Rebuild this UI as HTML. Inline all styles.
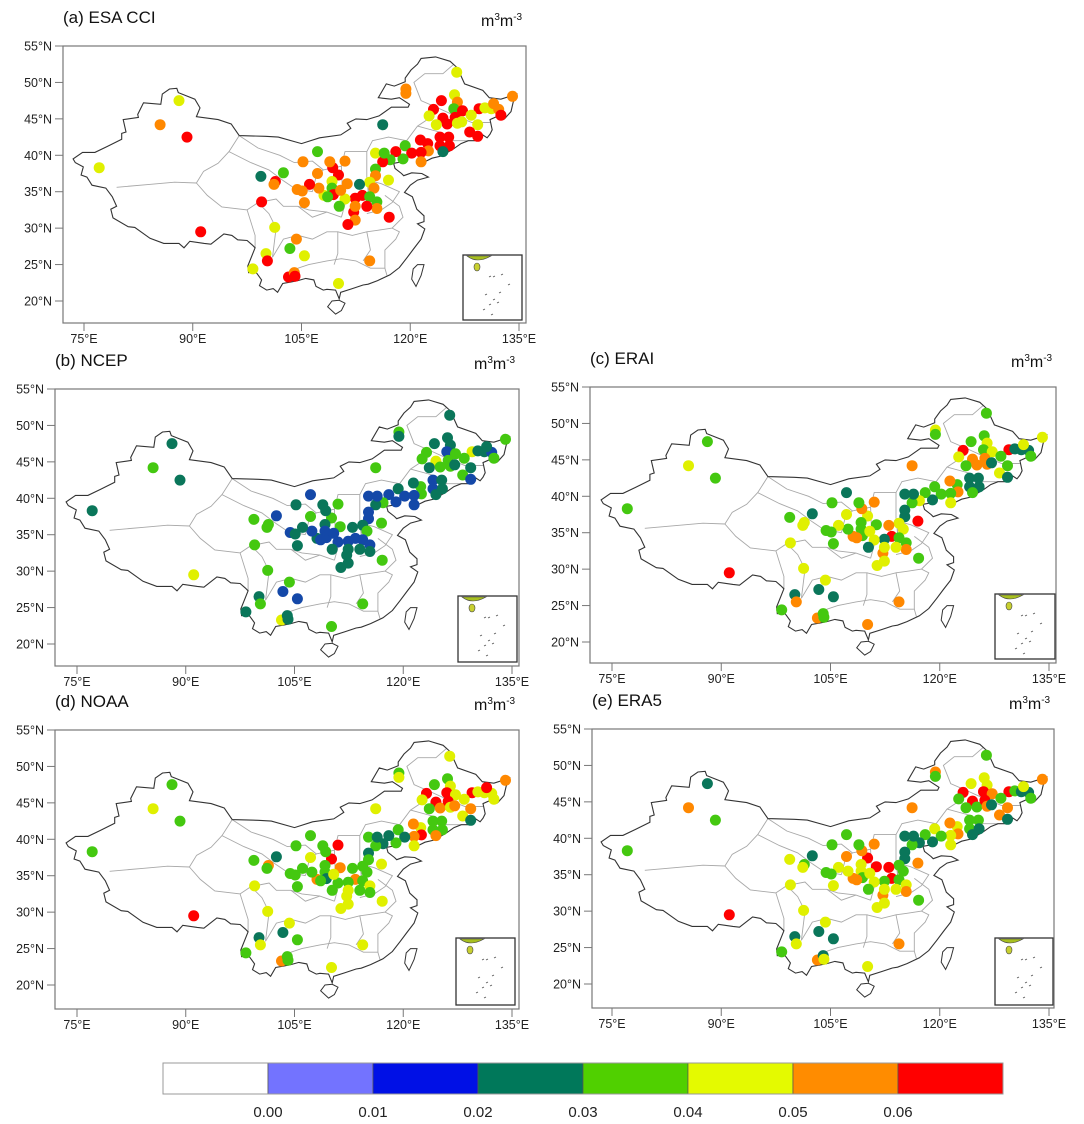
<!DOCTYPE html>
<html><head><meta charset="utf-8">
<style>
html,body{margin:0;padding:0;background:#fff;}
svg{display:block;font-family:"Liberation Sans",Arial,sans-serif;}
</style></head>
<body>
<svg id="fig" width="1084" height="1124" viewBox="0 0 1084 1124" xmlns="http://www.w3.org/2000/svg"></svg>
<script>
// ---------- data ----------
const stationLon=[88.1,85.5,89.2,77.1,91.1,126.4,119.4,119.4,134.1,126.1,124.3,126.5,123.2,126.0,127.2,129.5,130.3,131.2,132.2,131.5,132.5,122.6,124.5,125.1,126.2,126.5,127.1,128.4,129.3,128.2,129.3,123.6,124.1,125.3,124.1,125.4,124.5,122.4,121.4,122.5,121.5,121.5,116.2,119.3,120.2,119.0,118.0,117.2,116.2,115.2,116.4,115.2,115.2,117.0,114.4,115.0,113.0,113.4,112.4,114.4,115.4,115.4,114.0,117.1,112.2,112.4,112.4,111.4,111.0,110.2,111.3,110.1,109.3,111.0,108.9,107.2,105.2,107.2,109.2,109.2,109.4,110.4,108.1,108.6,107.4,106.1,104.4,105.1,105.4,102.5,99.4,101.4,101.2,99.5,101.3,104.3,103.4,105.4,100.1,100.3,98.3,103.2,104.0,104.1,110.1,114.4];
const stationLat=[47.5,44.2,42.5,38.3,29.5,51.4,49.1,48.5,48.1,48.3,47.5,47.3,46.3,46.4,46.1,46.4,46.5,46.4,46.3,47.1,45.5,45.4,45.1,44.3,45.2,44.4,44.6,45.5,44.2,43.2,42.6,44.2,42.5,42.5,41.3,41.3,40.5,41.6,42.1,40.6,40.4,39.1,44.2,41.3,40.3,39.5,40.5,39.4,39.1,40.3,40.3,38.1,37.2,36.6,36.3,35.5,36.0,34.5,34.1,34.3,33.6,32.7,33.0,31.5,32.2,33.0,31.1,30.5,34.0,33.0,36.1,37.3,38.3,39.2,39.1,40.5,39.1,37.5,36.4,35.5,34.6,35.2,34.5,34.3,35.5,36.0,35.3,35.1,33.5,37.6,37.1,36.4,36.0,33.6,30.1,28.5,27.2,26.2,26.5,25.5,24.4,23.3,23.9,23.4,22.4,25.5];
const valuesESACCI=[0.045,0.055,0.065,0.045,0.065,0.045,0.055,0.055,0.055,0.045,0.065,0.055,0.065,0.035,0.065,0.065,0.045,0.045,0.055,0.055,0.065,0.045,0.065,0.065,0.065,0.045,0.045,0.045,0.045,0.065,0.065,0.045,0.065,0.065,0.065,0.065,0.025,0.065,0.065,0.055,0.065,0.055,0.025,0.035,0.065,0.035,0.065,0.035,0.065,0.045,0.035,0.035,0.055,0.045,0.045,0.055,0.025,0.065,0.065,0.035,0.035,0.055,0.065,0.065,0.065,0.055,0.055,0.065,0.045,0.035,0.055,0.065,0.065,0.055,0.055,0.035,0.055,0.055,0.045,0.035,0.065,0.055,0.045,0.035,0.055,0.065,0.055,0.055,0.055,0.035,0.025,0.065,0.055,0.065,0.045,0.055,0.035,0.045,0.045,0.065,0.045,0.065,0.055,0.065,0.045,0.055];
const valuesNCEP=[0.025,0.035,0.025,0.025,0.042,0.025,0.035,0.025,0.035,0.025,0.025,0.025,0.035,0.015,0.035,0.042,0.025,0.025,0.015,0.025,0.035,0.035,0.042,0.035,0.035,0.035,0.025,0.035,0.025,0.035,0.015,0.025,0.015,0.025,0.015,0.025,0.025,0.035,0.025,0.035,0.015,0.015,0.035,0.025,0.015,0.015,0.015,0.035,0.025,0.015,0.015,0.015,0.015,0.035,0.025,0.035,0.025,0.015,0.015,0.015,0.015,0.025,0.025,0.035,0.025,0.025,0.025,0.025,0.015,0.025,0.035,0.035,0.025,0.035,0.025,0.015,0.025,0.035,0.025,0.015,0.015,0.015,0.025,0.015,0.015,0.025,0.015,0.025,0.025,0.015,0.035,0.035,0.035,0.035,0.035,0.035,0.015,0.015,0.025,0.035,0.025,0.042,0.025,0.025,0.035,0.035];
const valuesERAI=[0.035,0.045,0.035,0.035,0.065,0.035,0.045,0.035,0.045,0.035,0.035,0.045,0.065,0.035,0.045,0.065,0.025,0.025,0.025,0.045,0.035,0.045,0.055,0.055,0.055,0.055,0.025,0.035,0.035,0.045,0.025,0.035,0.025,0.025,0.025,0.025,0.035,0.035,0.055,0.055,0.035,0.045,0.055,0.035,0.035,0.025,0.035,0.045,0.035,0.025,0.025,0.025,0.025,0.065,0.045,0.045,0.055,0.065,0.025,0.035,0.035,0.055,0.045,0.035,0.055,0.045,0.045,0.045,0.045,0.025,0.035,0.045,0.055,0.055,0.035,0.025,0.035,0.045,0.035,0.035,0.035,0.045,0.055,0.055,0.035,0.045,0.035,0.035,0.035,0.025,0.035,0.045,0.045,0.045,0.045,0.045,0.025,0.025,0.025,0.055,0.035,0.055,0.035,0.035,0.055,0.055];
const valuesNOAA=[0.035,0.045,0.035,0.035,0.065,0.045,0.035,0.045,0.055,0.035,0.035,0.045,0.065,0.065,0.045,0.065,0.045,0.045,0.045,0.065,0.045,0.045,0.065,0.055,0.065,0.045,0.055,0.045,0.055,0.045,0.025,0.035,0.035,0.035,0.035,0.035,0.055,0.045,0.055,0.065,0.055,0.045,0.045,0.035,0.025,0.035,0.025,0.025,0.035,0.035,0.025,0.025,0.035,0.045,0.035,0.035,0.035,0.055,0.035,0.035,0.045,0.035,0.035,0.045,0.045,0.045,0.045,0.045,0.035,0.035,0.055,0.065,0.035,0.065,0.035,0.035,0.035,0.045,0.035,0.035,0.025,0.045,0.055,0.035,0.035,0.035,0.035,0.035,0.035,0.025,0.035,0.055,0.035,0.045,0.045,0.045,0.025,0.035,0.025,0.045,0.035,0.055,0.035,0.035,0.045,0.045];
const valuesERA5=[0.025,0.055,0.035,0.035,0.065,0.035,0.055,0.035,0.055,0.045,0.045,0.045,0.065,0.065,0.055,0.065,0.035,0.025,0.025,0.045,0.035,0.035,0.065,0.035,0.065,0.055,0.025,0.035,0.055,0.055,0.025,0.035,0.035,0.035,0.035,0.025,0.025,0.045,0.055,0.055,0.045,0.045,0.055,0.045,0.035,0.025,0.035,0.025,0.035,0.025,0.025,0.025,0.025,0.055,0.035,0.035,0.065,0.065,0.035,0.035,0.045,0.055,0.045,0.035,0.055,0.045,0.045,0.045,0.045,0.035,0.065,0.065,0.055,0.055,0.035,0.035,0.035,0.055,0.045,0.045,0.035,0.045,0.055,0.055,0.045,0.045,0.035,0.035,0.045,0.025,0.045,0.035,0.045,0.045,0.045,0.045,0.025,0.025,0.025,0.045,0.035,0.055,0.025,0.045,0.045,0.055];
const colorLevels=[0.00,0.01,0.02,0.03,0.04,0.05,0.06];
const colorLabels=["0.00","0.01","0.02","0.03","0.04","0.05","0.06"];
const latTicks=[55,50,45,40,35,30,25,20];
const lonTicks=[75,90,105,120,135];

// ---------- geometry ----------
const border=[[121.5,53.3],[123.5,53.5],[125.5,52.9],[126.5,52.0],[127.5,49.8],[130.0,48.9],[130.9,47.9],[132.5,47.7],[134.7,48.4],[134.2,47.3],[133.9,46.0],[133.0,45.0],[131.9,45.3],[131.0,44.9],[131.3,43.5],[131.0,42.9],[130.6,42.4],[130.0,42.8],[128.9,42.0],[128.0,42.0],[127.0,41.6],[126.0,40.9],[124.3,39.9],[123.0,39.6],[122.0,39.1],[121.3,38.8],[121.6,39.5],[122.0,40.4],[121.0,40.8],[119.5,39.9],[118.9,39.1],[117.7,38.9],[117.9,38.2],[118.8,37.5],[119.1,37.2],[120.2,37.6],[121.6,37.5],[122.5,37.0],[121.0,36.6],[120.0,35.9],[119.2,34.9],[120.3,34.3],[120.9,32.6],[121.9,31.7],[121.9,30.9],[121.0,30.6],[122.0,29.9],[121.5,28.5],[120.5,27.2],[119.6,26.0],[118.5,24.6],[117.2,23.6],[115.5,22.8],[114.2,22.3],[113.5,22.2],[112.0,21.7],[110.4,21.2],[110.2,20.3],[109.7,21.5],[108.5,21.6],[108.0,21.5],[107.0,22.0],[106.7,22.9],[105.6,23.1],[104.5,22.8],[103.5,22.6],[102.4,22.4],[101.7,21.2],[101.1,21.7],[100.2,21.5],[99.2,22.1],[99.5,22.9],[98.7,24.0],[97.7,23.9],[97.6,24.8],[98.6,27.3],[98.2,27.7],[97.5,28.3],[96.2,28.4],[95.4,29.0],[94.3,29.2],[92.5,27.8],[91.6,27.9],[89.6,28.2],[88.8,27.3],[88.1,27.9],[86.0,27.9],[84.1,28.6],[82.0,30.1],[81.1,30.2],[79.0,31.4],[78.7,32.6],[79.5,33.0],[78.9,34.3],[78.0,35.5],[76.1,35.9],[75.4,37.0],[74.6,37.3],[74.9,38.4],[73.8,39.0],[73.5,39.5],[74.8,40.4],[76.5,40.4],[78.2,41.2],[80.2,42.2],[80.2,43.0],[80.8,43.2],[80.4,44.9],[82.5,45.2],[82.4,45.6],[83.2,47.2],[85.6,47.0],[85.8,48.4],[86.8,49.1],[87.8,49.2],[88.0,48.6],[90.3,47.7],[91.0,46.5],[90.5,45.3],[93.5,44.9],[95.3,44.3],[96.4,42.7],[100.0,42.6],[101.8,42.5],[105.0,41.6],[107.5,42.4],[110.4,42.8],[111.8,43.7],[111.3,44.4],[112.5,45.0],[114.0,44.9],[115.7,45.4],[117.4,46.6],[119.7,46.6],[119.9,47.0],[118.5,47.9],[117.4,47.7],[115.6,47.9],[116.7,49.8],[117.8,49.5],[119.3,50.1],[119.3,50.6],[120.1,51.7],[121.0,52.5],[121.5,53.3]];
const hainan=[[108.6,19.2],[109.7,18.2],[110.5,18.7],[111.0,19.7],[110.2,20.1],[109.2,20.0],[108.6,19.2]];
const taiwan=[[121.0,25.0],[121.9,25.0],[121.5,23.5],[120.8,22.0],[120.2,23.0],[120.4,24.4],[121.0,25.0]];
const provinces=[
 [[79.5,35.6],[84,36.0],[87.5,36.3],[90.5,36.2],[91.5,37.8],[93.5,38.9],[95.0,40.5],[96.4,42.7]],
 [[90.5,36.2],[92.0,34.5],[94.0,32.9],[97.5,32.5],[98.6,29.0],[98.6,27.3]],
 [[97.5,32.5],[99.0,33.5],[101.5,34.0],[102.5,33.0],[104.5,33.0],[106.0,32.5],[108.5,32.2],[110.5,31.5]],
 [[95.0,40.5],[98.0,39.0],[100.5,38.0],[102.5,36.5],[104.0,35.5],[106.5,35.0]],
 [[96.4,42.7],[99.0,41.0],[102.0,40.0],[104.0,39.0],[106.5,39.2],[108.0,38.0],[110.5,38.5],[111.0,40.5],[114.0,40.5],[114.8,42.0],[117.0,42.5],[119.5,42.0],[121.0,44.0],[122.5,45.0],[123.8,46.5],[121.5,47.5],[120.5,50.0],[122.0,51.2],[124.5,51.2],[126.0,52.5]],
 [[121.0,44.0],[124.0,43.2],[126.0,42.0],[128.0,42.0]],
 [[123.8,46.5],[126.0,45.5],[128.5,44.5],[131.0,44.5]],
 [[106.5,35.0],[107.0,37.0],[108.0,38.0]],
 [[110.5,38.5],[110.6,36.0],[110.5,34.6],[111.0,33.3],[110.5,31.5]],
 [[114.0,40.5],[114.0,37.0],[114.2,35.0],[114.5,36.5],[116.0,36.1],[118.5,35.0],[117.5,33.5],[116.0,32.5],[114.0,32.0]],
 [[116.5,34.5],[118.5,33.0],[119.0,31.5],[117.5,30.0],[115.5,29.7],[114.0,29.5]],
 [[104.5,33.0],[106.5,31.5],[108.5,32.2]],
 [[101.0,26.0],[102.5,28.5],[104.5,29.0],[106.5,28.5],[108.5,29.5],[110.0,29.5],[110.0,26.5],[109.5,25.0]],
 [[104.5,22.8],[104.5,24.5],[106.0,25.0],[108.5,25.5],[110.5,25.8],[112.5,25.5],[114.5,24.5],[116.5,24.5],[116.8,23.5]],
 [[110.0,29.5],[112.0,29.0],[114.0,29.5],[114.5,27.0],[113.5,25.5]],
 [[116.5,24.5],[116.5,27.0],[118.0,28.5],[118.5,29.5],[117.5,30.0]],
 [[99.0,33.5],[100.5,32.0],[101.5,30.0],[101.0,26.0]]
];
const panels=[
 {id:"a",title:"(a) ESA CCI",vals:valuesESACCI,fl:63,fr:526,ft:46,fb:323,x75:84,x135:519,inset:[463,255,522,320]},
 {id:"b",title:"(b) NCEP",vals:valuesNCEP,fl:55,fr:519,ft:389,fb:666,x75:77,x135:512,inset:[458,596,517,662]},
 {id:"c",title:"(c) ERAI",vals:valuesERAI,fl:590,fr:1056,ft:387,fb:663,x75:612,x135:1049,inset:[995,594,1055,659]},
 {id:"d",title:"(d) NOAA",vals:valuesNOAA,fl:55,fr:519,ft:730,fb:1009,x75:77,x135:512,inset:[456,938,515,1005]},
 {id:"e",title:"(e) ERA5",vals:valuesERA5,fl:592,fr:1054,ft:729,fb:1008,x75:612,x135:1049,inset:[995,938,1053,1005]}
];
const palette=["#ffffff","#7373ff","#0010e6","#00785a","#50d000","#e4fa00","#ff8c00","#ff0000"];
const dotPalette=["#ffffff","#7373ff","#1448a8","#0a765a","#44c810","#e0f000","#ff8800","#ff0000"];
function classFor(v){let i=0;while(i<colorLevels.length&&v>=colorLevels[i])i++;return i;}

const NS="http://www.w3.org/2000/svg";
const svg=document.getElementById("fig");
function mk(tag,attrs,parent){const e=document.createElementNS(NS,tag);for(const k in attrs)e.setAttribute(k,attrs[k]);(parent||svg).appendChild(e);return e;}

panels.forEach(p=>{
  const g=mk("g",{});
  
  
  const sx=(p.x135-p.x75)/60;
  const X=lon=>p.x75+(lon-75)*sx;
  const Y=lat=>p.ft+(55-lat)*(255/35);
  const pts=arr=>arr.map(c=>X(c[0]).toFixed(1)+","+Y(c[1]).toFixed(1)).join(" ");
  const t=mk("text",{x:p.fl,y:p.ft-23,"font-size":17,fill:"#111"},g);t.textContent=p.title;
  
  
  const u=mk("text",{x:p.fr-45,y:p.ft-20,"font-size":16,fill:"#111"},g);
  u.innerHTML='m<tspan dy="-6" font-size="10">3</tspan><tspan dy="6">m</tspan><tspan dy="-6" font-size="10">-3</tspan>';
  
  
  const cp=mk("clipPath",{id:"clip"+p.id},g);mk("rect",{x:p.fl,y:p.ft,width:p.fr-p.fl,height:p.fb-p.ft},cp);
  const mg=mk("g",{"clip-path":"url(#clip"+p.id+")"},g);
  provinces.forEach(l=>{const e=mk("polyline",{points:pts(l),fill:"none",stroke:"#a8a8a8","stroke-width":0.9},mg);
    
    });
  const b=mk("polygon",{points:pts(border),fill:"none",stroke:"#333","stroke-width":1.1},mg);
  
  
  [hainan,taiwan].forEach(l=>{const e=mk("polygon",{points:pts(l),fill:"none",stroke:"#333","stroke-width":1},mg);
    
    });
  stationLon.forEach((lon,i)=>{
    const c=mk("circle",{cx:X(lon).toFixed(1),cy:Y(stationLat[i]).toFixed(1),r:5.5,fill:dotPalette[classFor(p.vals[i])]},mg);
    
    
  });
  const [ix0,iy0,ix1,iy1]=p.inset;
  const ig=mk("g",{},g);
  
  
  mk("rect",{x:ix0,y:iy0,width:ix1-ix0,height:iy1-iy0,fill:"#fff",stroke:"#333","stroke-width":1.3},ig);
  mk("path",{d:`M${ix0+4},${iy0+1} q10,8 24,0 z`,fill:"#a8c020",stroke:"#444","stroke-width":0.6},ig);
  mk("ellipse",{cx:ix0+14,cy:iy0+12,rx:3,ry:4,fill:"#c8d030",stroke:"#444","stroke-width":0.6},ig);
  [[26,22],[30,22],[38,20],[22,40],[30,45],[26,50],[34,48],[20,55],[36,38],[45,30],[28,60]].forEach(d=>{
    mk("line",{x1:ix0+d[0],y1:iy0+d[1],x2:ix0+d[0]+2,y2:iy0+d[1]-1,stroke:"#555","stroke-width":0.9},ig);});
  const fr=mk("rect",{x:p.fl,y:p.ft,width:p.fr-p.fl,height:p.fb-p.ft,fill:"none",stroke:"#777","stroke-width":1.2},g);
  
  
  latTicks.forEach(lat=>{
    const y=Y(lat);
    mk("line",{x1:p.fl-8,y1:y,x2:p.fl,y2:y,stroke:"#777","stroke-width":1},g);
    const tx=mk("text",{x:p.fl-11,y:y+4.5,"font-size":12.5,"text-anchor":"end",fill:"#222"},g);tx.textContent=lat+"°N";
    
    
  });
  lonTicks.forEach(lon=>{
    const x=X(lon);
    mk("line",{x1:x,y1:p.fb,x2:x,y2:p.fb+8,stroke:"#777","stroke-width":1},g);
    const tx=mk("text",{x:x,y:p.fb+20,"font-size":12.5,"text-anchor":"middle",fill:"#222"},g);tx.textContent=lon+"°E";
    
    
  });
});

const cb=mk("g",{});


const cbx=163,cbw=840,cby=1063,cbh=31,bw=cbw/palette.length;
palette.forEach((c,i)=>{
  const r=mk("rect",{x:cbx+i*bw,y:cby,width:bw,height:cbh,fill:c,stroke:"#555","stroke-width":0.7},cb);
  
  
});
mk("rect",{x:cbx,y:cby,width:cbw,height:cbh,fill:"none",stroke:"#999","stroke-width":1},cb);
colorLabels.forEach((l,i)=>{
  const t=mk("text",{x:cbx+(i+1)*bw,y:1117,"font-size":15,"text-anchor":"middle",fill:"#222"},cb);t.textContent=l;
  
  
});
</script>
</body></html>
